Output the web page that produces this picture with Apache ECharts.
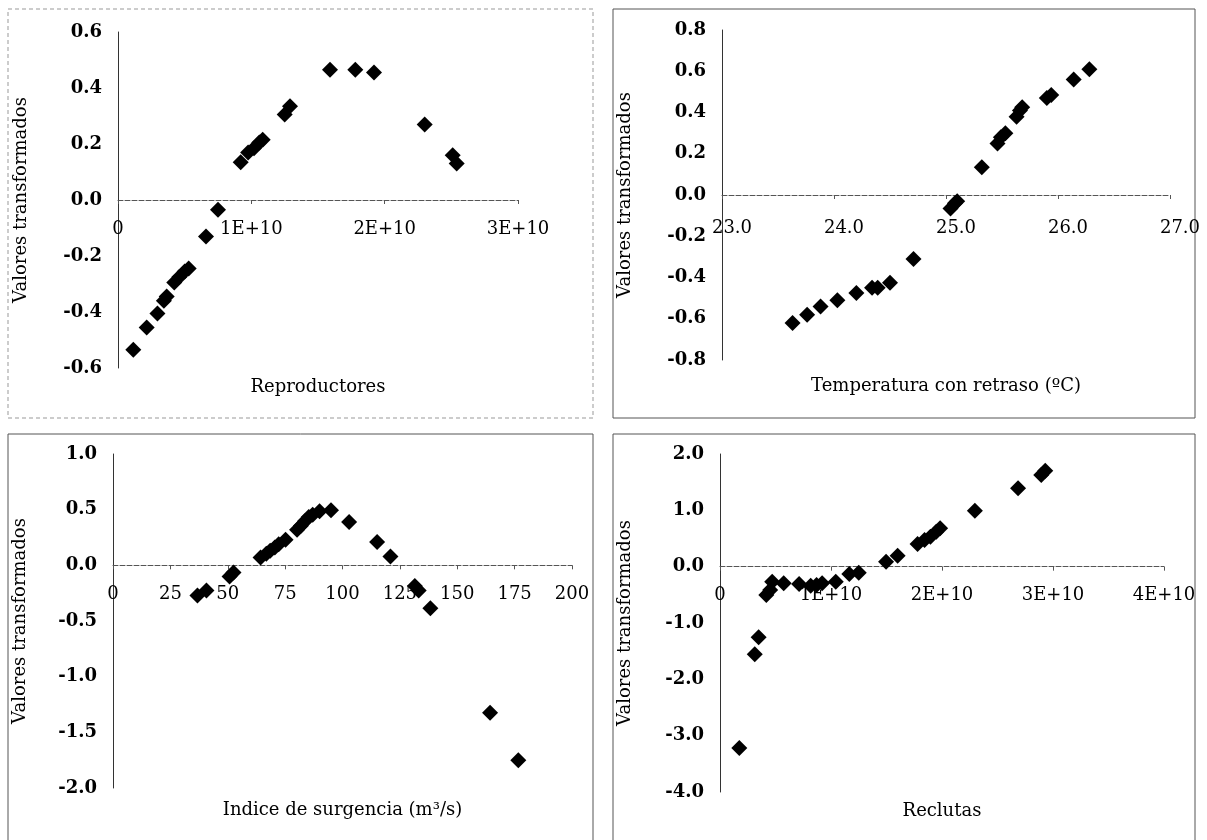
<!DOCTYPE html>
<html>
<head>
<meta charset="utf-8">
<script src="https://cdn.jsdelivr.net/npm/echarts@6/dist/echarts.min.js"></script>
<style>
html,body{margin:0;padding:0;background:#fff;}
#chart{width:1207px;height:840px;}
</style>
</head>
<body>
<div id="chart"></div>
<script>
// ---- Data ----
const yAxisTitle = 'Valores transformados';

// Panel 1: Reproductores
const reproductoresName = 'Reproductores';
const reproductoresX = [1.15e9, 2.15e9, 2.96e9, 3.44e9, 3.65e9, 4.22e9, 4.6e9, 5.0e9, 5.3e9, 6.6e9, 7.5e9,
  9.2e9, 9.76e9, 1.02e10, 1.06e10, 1.085e10, 1.25e10, 1.29e10, 1.59e10, 1.78e10, 1.92e10, 2.30e10, 2.51e10, 2.54e10];
const reproductoresY = [-0.535, -0.455, -0.405, -0.36, -0.345, -0.295, -0.275, -0.255, -0.245, -0.13, -0.035,
  0.135, 0.17, 0.185, 0.205, 0.215, 0.305, 0.335, 0.465, 0.465, 0.455, 0.27, 0.16, 0.13];
const reproductoresXTicks = [0, 1e10, 2e10, 3e10];
const reproductoresYTicks = [-0.6, -0.4, -0.2, 0.0, 0.2, 0.4, 0.6];

// Panel 2: Temperatura con retraso
const temperaturaName = 'Temperatura con retraso (\u00BAC)';
const temperaturaX = [23.63, 23.76, 23.88, 24.03, 24.20, 24.34, 24.39, 24.50, 24.71, 25.04, 25.08, 25.10,
  25.32, 25.46, 25.49, 25.53, 25.63, 25.66, 25.68, 25.90, 25.94, 26.14, 26.28];
const temperaturaY = [-0.62, -0.58, -0.54, -0.51, -0.475, -0.45, -0.45, -0.425, -0.31, -0.065, -0.04, -0.03,
  0.135, 0.25, 0.28, 0.30, 0.38, 0.41, 0.425, 0.47, 0.485, 0.56, 0.61];
const temperaturaXTicks = [23, 24, 25, 26, 27];
const temperaturaYTicks = [-0.8, -0.6, -0.4, -0.2, 0.0, 0.2, 0.4, 0.6, 0.8];

// Panel 3: Indice de surgencia
const surgenciaName = 'Indice de surgencia (m\u00B3/s)';
const surgenciaX = [36.8, 40.7, 50.8, 52.5, 64.3, 66.8, 68.5, 70.5, 72.2, 75.2, 80.2, 81.9, 83.6, 85.3, 87.0,
  90.0, 95.0, 102.9, 115.1, 120.9, 131.5, 133.2, 138.3, 164.3, 176.6];
const surgenciaY = [-0.27, -0.225, -0.10, -0.065, 0.07, 0.105, 0.13, 0.16, 0.19, 0.23, 0.32, 0.355, 0.395, 0.435,
  0.455, 0.485, 0.495, 0.39, 0.21, 0.08, -0.185, -0.225, -0.385, -1.325, -1.75];
const surgenciaXTicks = [0, 25, 50, 75, 100, 125, 150, 175, 200];
const surgenciaYTicks = [-2.0, -1.5, -1.0, -0.5, 0.0, 0.5, 1.0];

// Panel 4: Reclutas
const reclutasName = 'Reclutas';
const reclutasX = [1.74e9, 3.13e9, 3.48e9, 4.17e9, 4.52e9, 4.7e9, 5.74e9, 7.13e9, 8.17e9, 8.7e9, 9.2e9, 1.043e10,
  1.165e10, 1.25e10, 1.496e10, 1.6e10, 1.78e10, 1.843e10, 1.896e10, 1.948e10, 1.983e10, 2.296e10, 2.685e10, 2.894e10, 2.93e10];
const reclutasY = [-3.22, -1.556, -1.254, -0.503, -0.414, -0.266, -0.296, -0.308, -0.337, -0.325, -0.296, -0.266,
  -0.13, -0.107, 0.089, 0.195, 0.402, 0.473, 0.533, 0.621, 0.68, 0.994, 1.39, 1.627, 1.704];
const reclutasXTicks = [0, 1e10, 2e10, 3e10, 4e10];
const reclutasYTicks = [-4.0, -3.0, -2.0, -1.0, 0.0, 1.0, 2.0];

// ---- Layout ----
const grids = [
  { left: 118, top: 32, width: 400, height: 336 },
  { left: 722, top: 30, width: 448, height: 330 },
  { left: 113, top: 454, width: 459, height: 334 },
  { left: 720, top: 454, width: 444, height: 338 }
];

// ---- Helpers ----
const FONT = 'DejaVu Serif';
function sciLabel(v) {
  if (Math.abs(v) < 1e-9) return '0';
  const e = Math.floor(Math.log10(Math.abs(v)) + 1e-9);
  const m = Math.round(v / Math.pow(10, e) * 100) / 100;
  return m + 'E+' + e;
}
function fixed1(v) {
  const r = Math.round(v * 10) / 10;
  return (Math.abs(r) < 1e-9 ? 0 : r).toFixed(1);
}
function intLabel(v) { return String(Math.round(v)); }
function zip(xs, ys) { return xs.map((x, i) => [x, ys[i]]); }

// x axis is drawn where y = 0 (Excel "axis crosses at 0")
function makeX(idx, ticks, yTicks, fmt, nameText, nameGap, labelShift, labelMargin) {
  const yMin = yTicks[0], yMax = yTicks[yTicks.length - 1];
  const zeroOffset = -grids[idx].height * (0 - yMin) / (yMax - yMin);
  return {
    gridIndex: idx, type: 'value', position: 'bottom',
    offset: zeroOffset,
    min: ticks[0], max: ticks[ticks.length - 1],
    interval: ticks[1] - ticks[0],
    name: nameText, nameLocation: 'middle', nameGap: nameGap,
    nameTextStyle: { fontFamily: FONT, fontSize: 18, color: '#000' },
    axisLine: { show: true, onZero: false, lineStyle: { color: '#555', width: 1, type: [5, 2] } },
    axisTick: { show: true, length: 4, lineStyle: { color: '#555' } },
    axisLabel: { formatter: fmt, fontFamily: FONT, fontSize: 18, color: '#000', margin: labelMargin,
      padding: [0, 0, 0, labelShift || 0], showMinLabel: true, showMaxLabel: true, hideOverlap: false },
    splitLine: { show: false }
  };
}
function makeY(idx, ticks, fmt, gap) {
  return {
    gridIndex: idx, type: 'value',
    min: ticks[0], max: ticks[ticks.length - 1],
    interval: Math.round((ticks[1] - ticks[0]) * 10) / 10,
    name: yAxisTitle, nameLocation: 'middle', nameRotate: 90, nameGap: gap,
    nameTextStyle: { fontFamily: FONT, fontSize: 18, color: '#000' },
    axisLine: { show: true, onZero: false, lineStyle: { color: '#333', width: 1 } },
    axisTick: { show: false },
    axisLabel: { formatter: fmt, fontFamily: FONT, fontSize: 18, color: '#000', fontWeight: 'bold', margin: 16,
      padding: [0, 0, 14, 0], showMinLabel: true, showMaxLabel: true, hideOverlap: false },
    splitLine: { show: false }
  };
}
function series(idx, xs, ys) {
  return {
    type: 'scatter', xAxisIndex: idx, yAxisIndex: idx,
    symbol: 'diamond', symbolSize: [16, 16],
    itemStyle: { color: '#000', opacity: 1 },
    data: zip(xs, ys), silent: true
  };
}

const chart = echarts.init(document.getElementById('chart'), null, { renderer: 'canvas' });
const border = { stroke: '#555', lineWidth: 1, fill: null };
chart.setOption({
  backgroundColor: '#fff',
  animation: false,
  grid: grids.map(g => Object.assign({ outerBoundsMode: 'none', containLabel: false }, g)),
  xAxis: [
    makeX(0, reproductoresXTicks, reproductoresYTicks, sciLabel, reproductoresName, 178, 0, 20),
    makeX(1, temperaturaXTicks, temperaturaYTicks, fixed1, temperaturaName, 182, 20, 24),
    makeX(2, surgenciaXTicks, surgenciaYTicks, intLabel, surgenciaName, 236, 0, 20),
    makeX(3, reclutasXTicks, reclutasYTicks, sciLabel, reclutasName, 236, 0, 20)
  ],
  yAxis: [
    makeY(0, reproductoresYTicks, fixed1, 88),
    makeY(1, temperaturaYTicks, fixed1, 88),
    makeY(2, surgenciaYTicks, fixed1, 84),
    makeY(3, reclutasYTicks, fixed1, 86)
  ],
  series: [
    series(0, reproductoresX, reproductoresY),
    series(1, temperaturaX, temperaturaY),
    series(2, surgenciaX, surgenciaY),
    series(3, reclutasX, reclutasY)
  ],
  graphic: [
    { type: 'rect', shape: { x: 8, y: 9, width: 585, height: 409 }, style: Object.assign({}, border, { stroke: '#999', lineDash: [4, 3] }), silent: true },
    { type: 'rect', shape: { x: 613, y: 9, width: 582, height: 409 }, style: border, silent: true },
    { type: 'rect', shape: { x: 8, y: 434, width: 585, height: 420 }, style: border, silent: true },
    { type: 'rect', shape: { x: 613, y: 434, width: 582, height: 420 }, style: border, silent: true }
  ]
});
</script>
</body>
</html>
